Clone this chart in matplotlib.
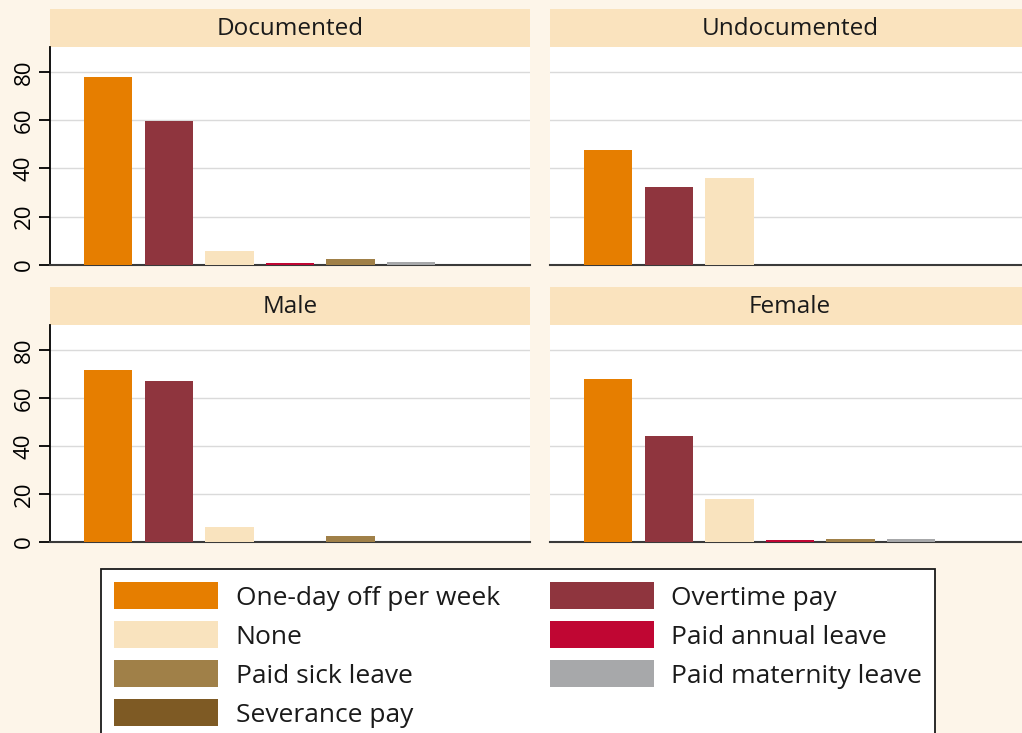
import matplotlib
matplotlib.use("Agg")
import matplotlib.pyplot as plt
from matplotlib.patches import Rectangle, Patch
import numpy as np

plt.rcParams["font.family"] = ["Open Sans", "DejaVu Sans"]

# ---- data (percent of respondents) ----
PANELS = ["Documented", "Undocumented", "Male", "Female"]
BENEFITS = ["One-day off per week", "Overtime pay", "None", "Paid annual leave",
            "Paid sick leave", "Paid maternity leave", "Severance pay"]
documented = [77.8, 59.7, 5.8, 0.8, 2.5, 1.2, 0.0]
undocumented = [47.7, 32.4, 36.1, 0.0, 0.0, 0.0, 0.0]
male = [71.4, 66.8, 6.2, 0.0, 2.6, 0.0, 0.0]
female = [68.0, 44.0, 17.8, 1.0, 1.4, 1.4, 0.0]
VALUES = [documented, undocumented, male, female]

COLOURS = {
    "One-day off per week": "#E67E00",
    "Overtime pay":         "#8F353E",
    "None":                 "#F9E3BE",
    "Paid annual leave":    "#C00633",
    "Paid sick leave":      "#A08048",
    "Paid maternity leave": "#A7A8AA",
    "Severance pay":        "#7E5A24",
}
BG = "#FDF5E9"
STRIP = "#FAE3BE"

W, H = 1022, 733
fig = plt.figure(figsize=(W / 100, H / 100), dpi=100, facecolor=BG)

# panel rectangles in pixels: (left, top, width, height) of the plot area
boxes = [(50, 47, 480, 218), (550, 47, 480, 218),
         (50, 325, 480, 217), (550, 325, 480, 217)]
strip_h = 38
x = np.arange(1, len(BENEFITS) + 1)

for i, (name, vals, (l, t, w, h)) in enumerate(zip(PANELS, VALUES, boxes)):
    ax = fig.add_axes([l / W, 1 - (t + h) / H, w / W, h / H])
    ax.set_facecolor("white")
    ax.bar(x, vals, width=0.8, color=[COLOURS[b] for b in BENEFITS], zorder=3)
    ax.set_xlim(0.04, 7.96)
    ax.set_ylim(0, 90.3)
    ax.set_yticks([0, 20, 40, 60, 80])
    ax.set_xticks([])
    ax.grid(axis="y", color="#DADADA", lw=1, zorder=0)
    for s in ["top", "right"]:
        ax.spines[s].set_visible(False)
    ax.spines["bottom"].set_color("#3a3a3a")
    ax.spines["bottom"].set_linewidth(1.5)
    if i % 2 == 0:
        ax.spines["left"].set_linewidth(1.3)
        ax.tick_params(axis="y", length=8, width=1.3, labelsize=16, pad=3)
        for lab in ax.get_yticklabels():
            lab.set_rotation(90)
            lab.set_va("center")
    else:
        ax.spines["left"].set_visible(False)
        ax.tick_params(axis="y", length=0, labelleft=False)
    # strip header
    sh = strip_h / h
    ax.add_patch(Rectangle((0, 1), 1, sh, transform=ax.transAxes,
                           facecolor=STRIP, edgecolor="none", clip_on=False))
    ax.text(0.5, 1 + sh / 2 - 0.005, name, transform=ax.transAxes, ha="center",
            va="center", fontsize=17.5, color="#1a1a1a")

# legend: column-major fill, so reorder to match the row layout
order = [0, 2, 4, 6, 1, 3, 5]
handles = [Patch(facecolor=COLOURS[BENEFITS[k]], edgecolor="none",
                 label=BENEFITS[k]) for k in order]
leg = fig.legend(handles=handles, ncol=2, loc="upper left",
                 bbox_to_anchor=(101 / W, 1 - 569 / H), fontsize=19,
                 frameon=True, fancybox=False, edgecolor="#1a1a1a",
                 facecolor="white", framealpha=1,
                 handlelength=3.95, handleheight=1.2, handletextpad=0.65,
                 labelspacing=0.4, columnspacing=1.9, borderpad=0.5,
                 borderaxespad=0)
leg.get_frame().set_linewidth(1.3)
for txt in leg.get_texts():
    txt.set_color("#1a1a1a")

fig.savefig("out.png", dpi=100, facecolor=BG)
